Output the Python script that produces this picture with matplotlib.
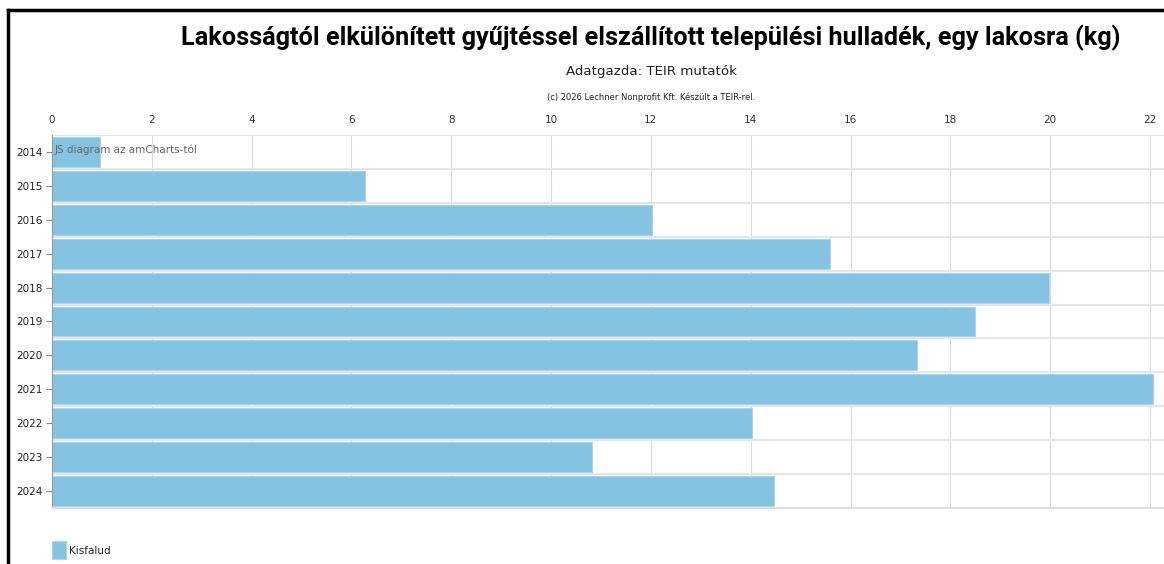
import matplotlib.pyplot as plt
from matplotlib.lines import Line2D
from matplotlib.patches import Rectangle

years = ['2014', '2015', '2016', '2017', '2018', '2019', '2020', '2021', '2022', '2023', '2024']
values = [0.96, 6.27, 12.02, 15.59, 19.98, 18.5, 17.33, 22.06, 14.03, 10.82, 14.47]
xticks = list(range(0, 23, 2))
series_name = 'Kisfalud'

bar_color = '#85c3e3'

W, H = 1164, 564
fig = plt.figure(figsize=(W / 100, H / 100), dpi=100)
fig.patch.set_facecolor('white')

# plot area in pixels: value 0 at x=52, value 22 at x=1150, rows from y=135 to 508
x0, x22, y0, y1 = 52, 1150, 135, 508
px_per_unit = (x22 - x0) / 22
ax = fig.add_axes([x0 / W, 1 - y1 / H, (W - x0) / W, (y1 - y0) / H])

pos = list(range(len(years)))
ax.barh(pos, values, height=0.88, color=bar_color, edgecolor='#a9d6ee', linewidth=0.8, zorder=2)
ax.set_xlim(0, (W - x0) / px_per_unit)
ax.set_ylim(len(years) - 0.5, -0.5)

ax.set_xticks(xticks)
ax.set_xticklabels([str(t) for t in xticks])
ax.xaxis.tick_top()
ax.tick_params(axis='x', length=0, pad=7, labelsize=7.5, labelcolor='#333333')
ax.set_yticks(pos)
ax.set_yticklabels(years)
ax.tick_params(axis='y', length=4, color='#888888', pad=3, labelsize=7.5, labelcolor='#222222')

for xv in xticks:
    ax.axvline(xv, color='#dcdcdc', linewidth=0.8, zorder=1)
for b in range(len(years) + 1):
    ax.axhline(b - 0.5, color='#e6e6e6', linewidth=1.5, zorder=1)

for side in ['top', 'right']:
    ax.spines[side].set_visible(False)
ax.spines['left'].set_color('#999999')
ax.spines['left'].set_linewidth(0.8)
ax.spines['bottom'].set_color('#dddddd')
ax.spines['bottom'].set_linewidth(1.5)

ax.text(0.06, -0.07, 'JS diagram az amCharts-tól', transform=ax.transData,
        ha='left', va='center', fontsize=7.5, color='#666666', zorder=3)

title = fig.text(651 / W, 1 - 38 / H,
                 'Lakosságtól elkülönített gyűjtéssel elszállított települési hulladék, egy lakosra (kg)',
                 ha='center', va='center', fontsize=17, fontweight='bold',
                 family=['Roboto', 'DejaVu Sans'], color='#000000')
# scale the title so it spans about 938 px
r = fig.canvas.get_renderer()
tw = title.get_window_extent(r).width
title.set_fontsize(min(20, 17 * 938 / tw))

fig.text(651 / W, 1 - 72 / H, 'Adatgazda: TEIR mutatók',
         ha='center', va='center', fontsize=9.6, color='#222222')
fig.text(651 / W, 1 - 97 / H, '(c) 2026 Lechner Nonprofit Kft. Készült a TEIR-rel.',
         ha='center', va='center', fontsize=6, color='#222222')

# legend swatch and label
fig.add_artist(Rectangle((52 / W, 1 - 559 / H), 14 / W, 18 / H, transform=fig.transFigure,
                         facecolor=bar_color, edgecolor='#a9d6ee', linewidth=0.8))
fig.text(69 / W, 1 - 551 / H, series_name, ha='left', va='center', fontsize=7.5, color='#222222')

# outer frame
fig.add_artist(Line2D([8 / W, 8 / W], [0, 1 - 10 / H], color='black', linewidth=2.5,
                      transform=fig.transFigure))
fig.add_artist(Line2D([8 / W, 1], [1 - 10 / H, 1 - 10 / H], color='black', linewidth=2.5,
                      transform=fig.transFigure))

fig.savefig('out.png', dpi=100, facecolor='white')
